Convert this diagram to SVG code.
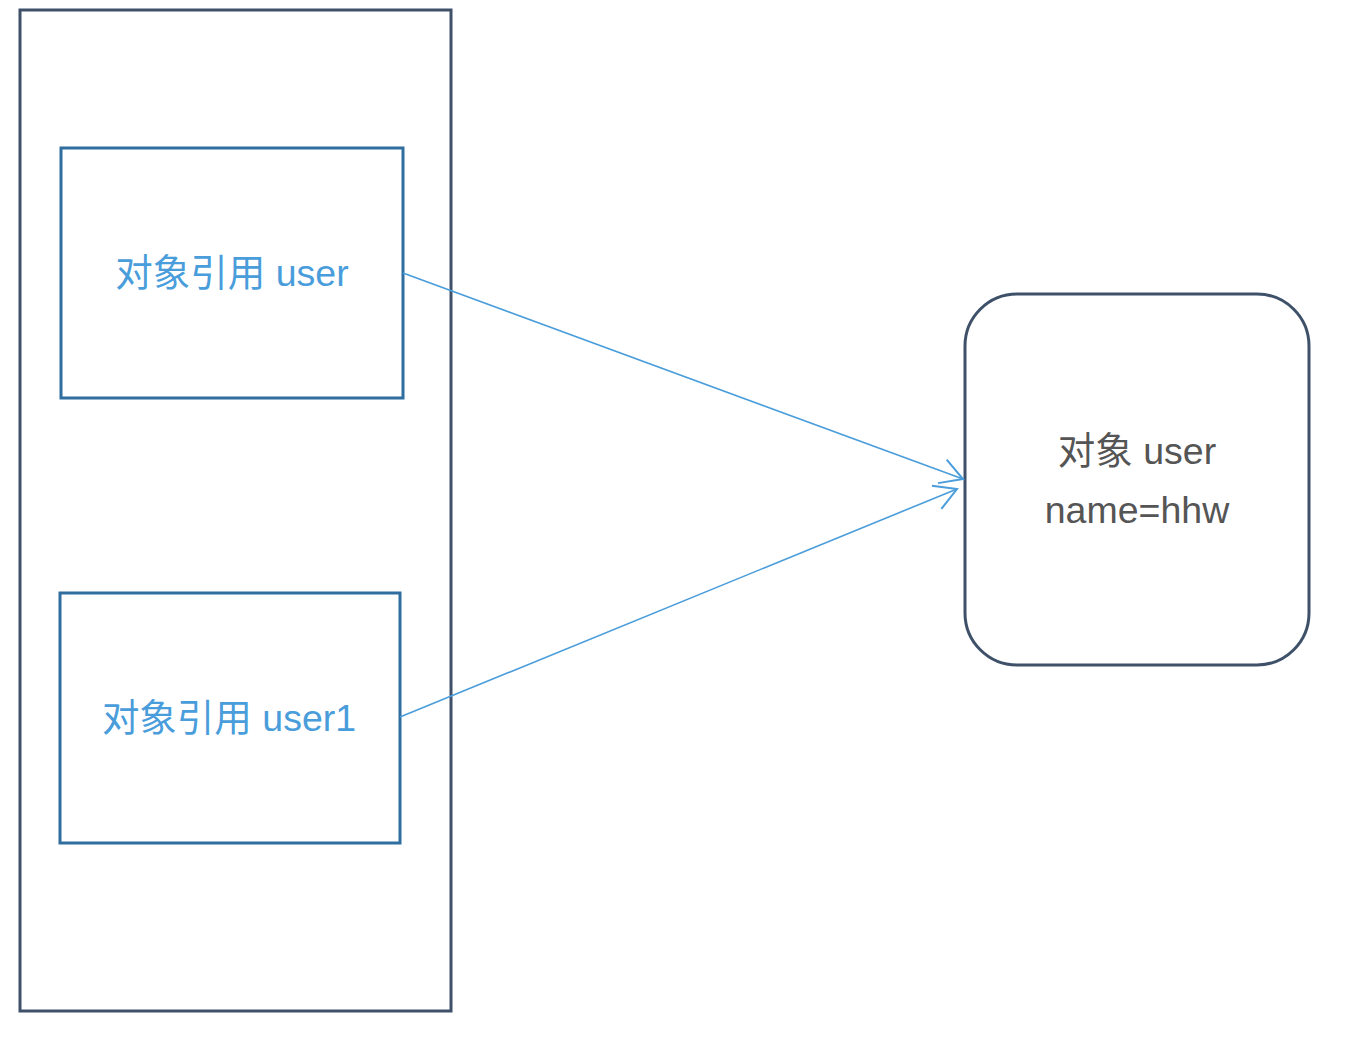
<svg xmlns="http://www.w3.org/2000/svg" width="1362" height="1040" viewBox="0 0 1362 1040">
<style>
.outer{fill:#fff;stroke:#3e5169;stroke-width:3}
.ref{fill:#fff;stroke:#2f6e9f;stroke-width:3}
.obj{fill:#fff;stroke:#3e5169;stroke-width:3}
.conn{fill:none;stroke:#4a9ddb;stroke-width:1.6}
.t1{font-family:"Liberation Sans","Noto Sans CJK SC",sans-serif;font-size:37.5px;fill:#4a9ddb;text-anchor:middle}
.t2{font-family:"Liberation Sans","Noto Sans CJK SC",sans-serif;font-size:37.5px;fill:#555;text-anchor:middle}
</style>
<defs>
<marker id="arr" viewBox="0 0 30 30" refX="28" refY="15" markerWidth="30" markerHeight="30" markerUnits="userSpaceOnUse" orient="auto">
<polyline points="6,2.5 28,15 6,27.5" fill="none" stroke="#4a9ddb" stroke-width="2"/>
</marker>
</defs>
<g id="stack"><rect class="outer" x="20" y="10" width="431" height="1001"/></g>
<g id="ref-user"><rect class="ref" x="61" y="148" width="342" height="250"/><text class="t1" x="232" y="286">对象引用 user</text></g>
<g id="ref-user1"><rect class="ref" x="60" y="593" width="340" height="250"/><text class="t1" x="229" y="731">对象引用 user1</text></g>
<g id="obj-user"><rect class="obj" x="965" y="294" width="344" height="371" rx="52"/><text class="t2" x="1137" y="464">对象 user</text><text class="t2" x="1137" y="523">name=hhw</text></g>
<g id="connectors">
<line class="conn" x1="403" y1="273" x2="963" y2="479" marker-end="url(#arr)"/>
<line class="conn" x1="400" y1="717" x2="957" y2="489" marker-end="url(#arr)"/>
</g>
</svg>
